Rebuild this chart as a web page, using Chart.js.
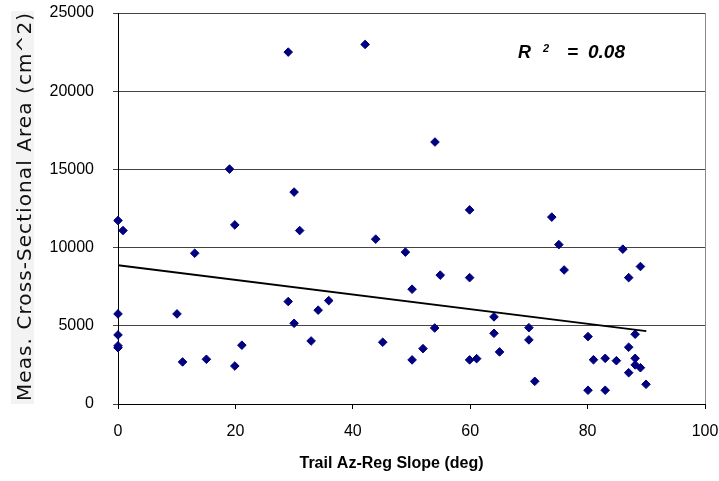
<!DOCTYPE html>
<html><head><meta charset="utf-8">
<script src="https://cdn.jsdelivr.net/npm/chart.js@4/dist/chart.umd.min.js"></script>
<style>html,body{margin:0;padding:0;background:#fff;}#wrap{width:719px;height:481px;position:relative}</style>
</head><body><div id="wrap"><canvas id="c" width="719" height="481"></canvas></div>
<script>
// ---- data ----
const slopeDeg = [0, 0.85, 0, 0, 0, 0, 10.05, 11.0, 13.07, 15.06, 19.0, 19.9, 19.9, 21.1, 29.0, 29.0, 30.0, 30.0, 30.95, 32.9, 34.1, 35.9, 42.1, 43.9, 45.1, 48.96, 50.1, 50.1, 51.96, 54.0, 53.95, 54.9, 59.9, 59.9, 59.9, 61.1, 64.05, 64.05, 65.0, 70.0, 70.0, 71.0, 73.9, 75.1, 76.0, 80.07, 80.07, 81.0, 83.0, 83.0, 84.9, 86.0, 87.0, 87.0, 87.0, 88.1, 88.1, 88.1, 89.0, 89.0, 89.95];
const areaCm2  = [11730, 11090, 5760, 4415, 3720, 3600, 5760, 2690, 9640, 2860, 15020, 11450, 2430, 3760, 22500, 6550, 13550, 5160, 11090, 4030, 6000, 6610, 22990, 10540, 3950, 9710, 7340, 2820, 3540, 16750, 4860, 8240, 12410, 8080, 2820, 2900, 5570, 4520, 3330, 4880, 4100, 1450, 11950, 10190, 8570, 4310, 880, 2830, 2920, 880, 2770, 9900, 8080, 3630, 2000, 4460, 2920, 2500, 8790, 2320, 1260];
const trendX = [0, 90];
const trendY = [8870, 4660];
const xTickValues = [0, 20, 40, 60, 80, 100];
const yTickValues = [0, 5000, 10000, 15000, 20000, 25000];
const xTitle = 'Trail Az-Reg Slope (deg)';
const yTitle = 'Meas. Cross-Sectional Area (cm^2)';
const r2Value = '0.08';

const points = slopeDeg.map((x, i) => ({x: x, y: areaCm2[i]}));
const trend = trendX.map((x, i) => ({x: x, y: trendY[i]}));

const decor = {
  id: 'decor',
  beforeDraw(chart) {
    const ctx = chart.ctx;
    ctx.save();
    ctx.fillStyle = '#fff';
    ctx.fillRect(0, 0, chart.width, chart.height);
    ctx.fillStyle = '#f3f3f3';
    ctx.fillRect(11, 11, 23, 393);
    ctx.restore();
  },
  afterDraw(chart) {
    const ctx = chart.ctx;
    const a = chart.chartArea;
    ctx.save();
    ctx.strokeStyle = '#888';
    ctx.lineWidth = 1;
    ctx.beginPath();
    ctx.moveTo(Math.round(a.right) + 0.5, a.top);
    ctx.lineTo(Math.round(a.right) + 0.5, a.bottom);
    ctx.stroke();
    ctx.fillStyle = '#111';
    ctx.font = '20px "DejaVu Sans"';
    const w0 = ctx.measureText(yTitle).width;
    const sp = (388 - w0) / (yTitle.length - 1);
    ctx.translate(31, 401);
    ctx.rotate(-Math.PI / 2);
    ctx.letterSpacing = sp + 'px';
    ctx.textAlign = 'left';
    ctx.textBaseline = 'alphabetic';
    ctx.fillText(yTitle, 0, 0);
    ctx.restore();
    ctx.save();
    ctx.fillStyle = '#000';
    ctx.font = 'bold 16px "Liberation Sans", Arial';
    ctx.textAlign = 'center';
    ctx.textBaseline = 'alphabetic';
    ctx.fillText(xTitle, 391.5, 468);
    ctx.font = 'italic bold 18px "Liberation Sans", Arial';
    ctx.textAlign = 'left';
    ctx.fillText('R', 518, 58);
    ctx.font = 'italic bold 11px "Liberation Sans", Arial';
    ctx.fillText('2', 543, 52);
    ctx.font = 'italic bold 19px "Liberation Sans", Arial';
    ctx.fillText('=', 567, 58);
    ctx.textAlign = 'right';
    ctx.fillText(r2Value, 625, 58);
    ctx.restore();
  }
};

new Chart(document.getElementById('c'), {
  type: 'scatter',
  data: {
    datasets: [
      {
        data: points,
        pointStyle: 'rectRot',
        pointRadius: 4.3,
        pointBackgroundColor: '#000080',
        pointBorderColor: '#000080',
        pointBorderWidth: 1,
        clip: false,
        order: 1
      },
      {
        data: trend,
        showLine: true,
        borderColor: '#000',
        borderWidth: 2,
        pointRadius: 0,
        fill: false,
        order: 0
      }
    ]
  },
  options: {
    responsive: false,
    animation: false,
    devicePixelRatio: 1,
    layout: {padding: {top: 13, right: 14, left: 0, bottom: 0}},
    plugins: {legend: {display: false}, tooltip: {enabled: false}, title: {display: false}},
    scales: {
      x: {
        type: 'linear',
        min: 0, max: 100,
        afterBuildTicks: (s) => { s.ticks = xTickValues.map(v => ({value: v})); },
        afterFit: (s) => { s.height = 77; s.paddingLeft = 0; s.paddingRight = 0; },
        ticks: {color: '#000', font: {family: '"Liberation Sans", Arial', size: 16}, padding: 13, maxRotation: 0,
                callback: (v) => String(v)},
        grid: {drawOnChartArea: false, drawTicks: true, tickLength: 5, color: '#000'},
        border: {display: true, color: '#000', width: 1}
      },
      y: {
        type: 'linear',
        min: 0, max: 25000,
        afterBuildTicks: (s) => { s.ticks = yTickValues.map(v => ({value: v})); },
        afterFit: (s) => { s.width = 118; s.paddingTop = 0; s.paddingBottom = 0; },
        ticks: {color: '#000', font: {family: '"Liberation Sans", Arial', size: 16}, padding: 19,
                callback: (v) => String(v)},
        grid: {drawOnChartArea: true, drawTicks: true, tickLength: 5, color: '#444'},
        border: {display: true, color: '#000', width: 1}
      }
    }
  },
  plugins: [decor]
});
</script>
</body></html>
